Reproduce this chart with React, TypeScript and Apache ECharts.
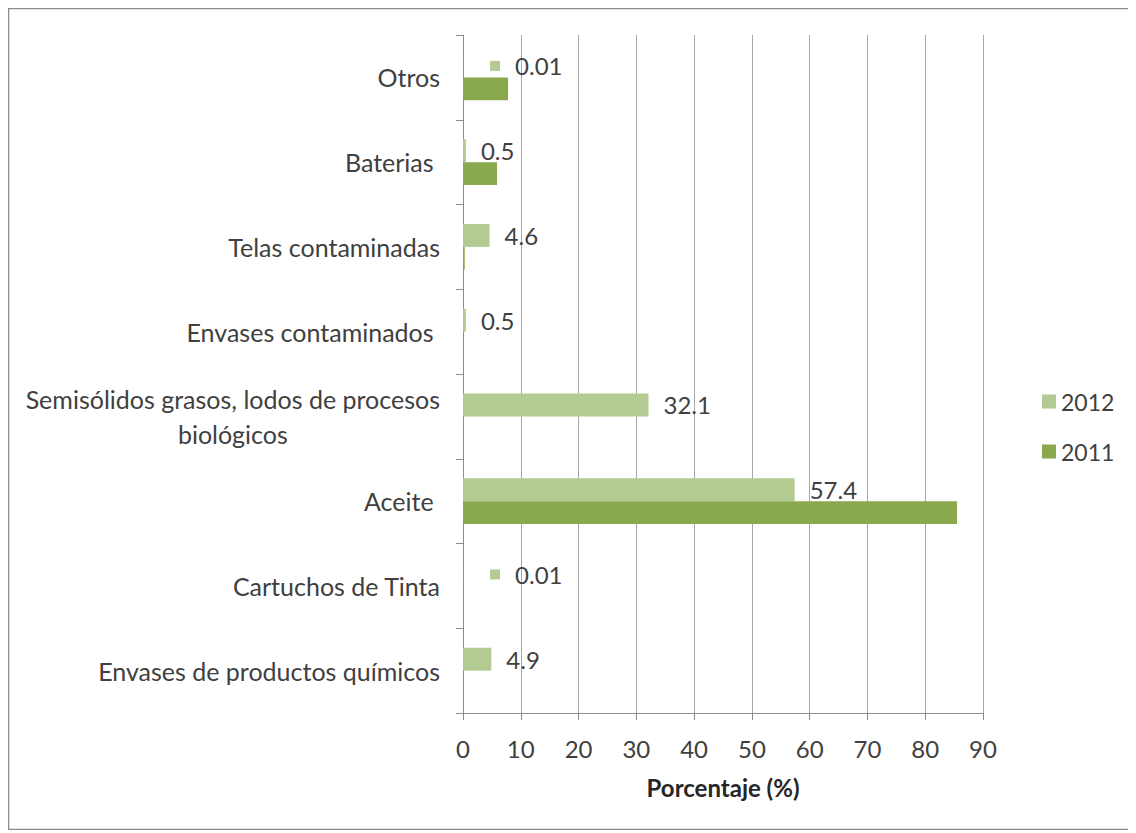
import React, { useEffect, useRef } from "react";
import * as echarts from "echarts";

const categories = [
  "Envases de productos químicos",
  "Cartuchos de Tinta",
  "Aceite ",
  "Semisólidos grasos, lodos de procesos biológicos",
  "Envases contaminados ",
  "Telas contaminadas",
  "Baterias ",
  "Otros",
];
const values2012 = [4.9, 0.01, 57.4, 32.1, 0.5, 4.6, 0.5, 0.01];
const values2011 = [0, 0, 85.5, 0, 0, 0.3, 5.9, 7.8];
const seriesNames = ["2012", "2011"];
const xMin = 0;
const xMax = 90;
const xInterval = 10;
const xTitle = "Porcentaje (%)";

const C2012 = "#b3cb93";
const C2011 = "#8aa94e";
const FONT = "Lato";
const TXT = "#404040";

export default function App() {
  const ref = useRef<HTMLDivElement>(null);
  useEffect(() => {
    if (!ref.current) return;
    const chart = echarts.init(ref.current, undefined, { renderer: "svg" });
    const data2012 = values2012.map((v) => {
      if (v < 0.1) {
        return {
          value: v,
          label: {
            distance: 27,
            formatter: "{sq|}{sp|}{v|" + v + "}",
          },
        };
      }
      return { value: v };
    });
    chart.setOption({
      animation: false,
      textStyle: { fontFamily: FONT },
      graphic: [
        {
          type: "rect",
          shape: { x: 0.5, y: 0.5, width: 1125, height: 821 },
          style: { fill: "none", stroke: "#8c8c8c", lineWidth: 1.5 },
          silent: true,
        },
      ],
      legend: {
        orient: "vertical",
        left: 1029,
        top: 377,
        itemWidth: 14,
        itemHeight: 14,
        itemGap: 27,
        icon: "rect",
        data: seriesNames,
        textStyle: { fontSize: 23, color: TXT, fontFamily: FONT },
      },
      grid: { left: 455, right: 151, top: 27, bottom: 117, containLabel: false },
      xAxis: {
        type: "value",
        min: xMin,
        max: xMax,
        interval: xInterval,
        name: xTitle,
        nameLocation: "middle",
        nameGap: 62,
        nameTextStyle: { fontSize: 24, fontWeight: "bold", color: "#262626", fontFamily: FONT },
        axisLine: { show: true, lineStyle: { color: "#8c8c8c", width: 1 } },
        axisTick: { show: true, length: 7, lineStyle: { color: "#8c8c8c" } },
        axisLabel: { fontSize: 24, color: TXT, margin: 23, fontFamily: FONT },
        splitLine: { show: true, lineStyle: { color: "#a6a6a6", width: 1 } },
      },
      yAxis: {
        type: "category",
        data: categories,
        axisLine: { show: true, lineStyle: { color: "#8c8c8c", width: 1 } },
        axisTick: { show: true, length: 7, lineStyle: { color: "#8c8c8c" } },
        axisLabel: {
          margin: 23,
          formatter: (v: string) => {
            if (v.startsWith("Semisólidos")) {
              return "{a|Semisólidos grasos, lodos de procesos}\n{b|biológicos}";
            }
            return "{a|" + v + "}";
          },
          rich: {
            a: { fontSize: 25, color: TXT, fontFamily: FONT, lineHeight: 35 },
            b: { fontSize: 25, color: TXT, fontFamily: FONT, lineHeight: 35, align: "center" },
          },
        },
      },
      series: [
        {
          name: "2012",
          type: "bar",
          data: data2012,
          itemStyle: { color: C2012 },
          barGap: "0%",
          barCategoryGap: "46%",
          label: {
            show: true,
            position: "right",
            distance: 15,
            fontSize: 24,
            color: TXT,
            fontFamily: FONT,
            rich: {
              sq: { width: 10, height: 10, backgroundColor: C2012 },
              sp: { width: 15, height: 10 },
              v: { fontSize: 24, color: TXT, fontFamily: FONT },
            },
          },
        },
        {
          name: "2011",
          type: "bar",
          data: values2011,
          itemStyle: { color: C2011 },
          barGap: "0%",
          barCategoryGap: "46%",
        },
      ],
    });
    return () => chart.dispose();
  }, []);
  return <div ref={ref} style={{ width: 1126, height: 822 }} />;
}
